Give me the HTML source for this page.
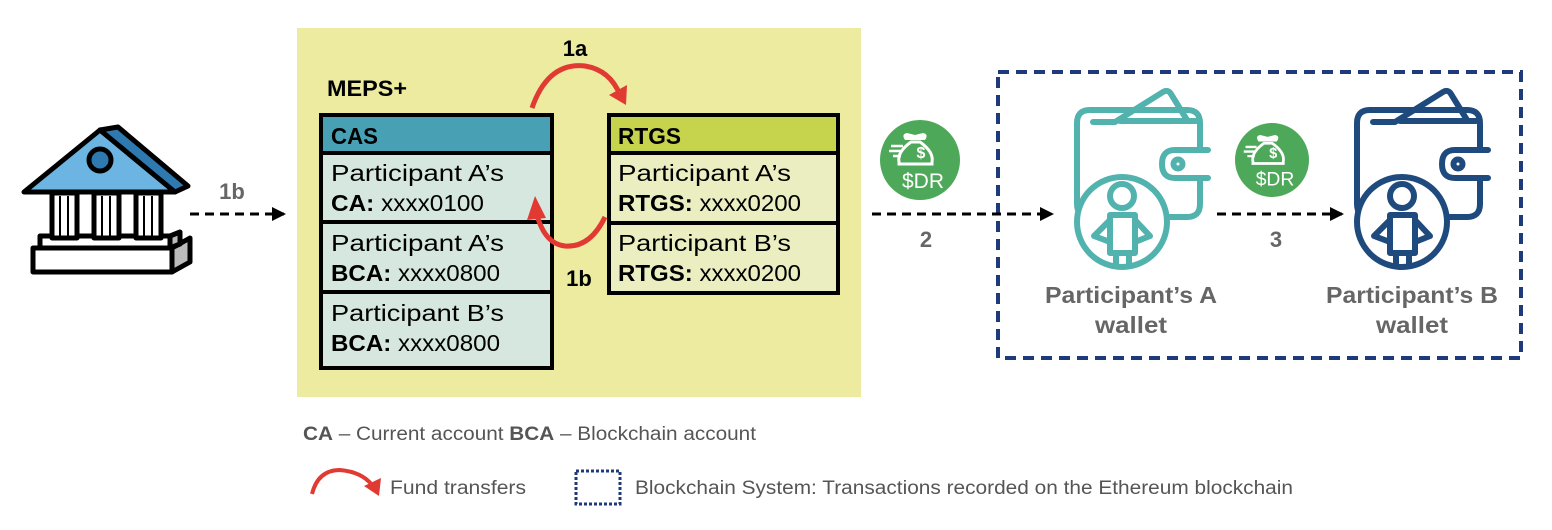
<!DOCTYPE html>
<html><head><meta charset="utf-8"><style>
html,body{margin:0;padding:0;background:#fff;}
svg{display:block;}
text{font-family:"Liberation Sans",sans-serif;}
</style></head><body>
<svg width="1552" height="530" viewBox="0 0 1552 530" xmlns="http://www.w3.org/2000/svg">
<defs>
<marker id="ah" markerWidth="14" markerHeight="14" refX="12" refY="7" orient="auto" markerUnits="userSpaceOnUse"><path d="M0,0 L14,7 L0,14 z" fill="#000"/></marker>
<g id="wallet" fill="none" stroke-width="6" stroke-linejoin="round" stroke-linecap="round">
<path d="M1090,217 Q1077,217 1077,204 L1077,123 Q1077,110 1090,110 L1187,110 Q1200,110 1200,123 L1200,204 Q1200,217 1187,217 Z" fill="#fff"/>
<path d="M1093,122 L1115,122 L1163,92 Q1168,89 1171,94 L1187,120"/>
<path d="M1120,121 L1196,121"/>
<path d="M1208,150 L1175,150 Q1162,150 1162,164 Q1162,178 1175,178 L1208,178" fill="#fff"/>
<circle cx="1178" cy="164" r="4.5"/>
<circle cx="1122" cy="222" r="45" fill="#fff"/>
<circle cx="1122" cy="196" r="12"/>
<rect x="1110" y="215" width="25" height="38"/>
<path d="M1110,220 L1094,236 L1110,242 M1135,220 L1150,236 L1135,242"/>
<path d="M1116,253 L1116,264 M1129,253 L1129,264"/>
</g>
<g id="money">
<path d="M-18,-18 q-4,-6 2,-7 l8,2 l8,-2 q6,1 2,7 z" fill="#fff"/>
<path d="M-12,-16 q-14,10 -12,20 l0,2 l33,0 l0,-2 q2,-10 -12,-20 z" fill="none" stroke="#fff" stroke-width="3"/>
<text x="-2" y="0" font-size="16" font-weight="bold" fill="#fff" text-anchor="middle">$</text>
<path d="M-32,-12 h12 M-34,-7 h12 M-30,-2 h8" stroke="#fff" stroke-width="2.5"/>
<text x="0" y="30" font-size="21" fill="#fff" text-anchor="middle">$DR</text>
</g>
</defs>

<rect x="297" y="28" width="564" height="369" fill="#eceba0"/>
<text x="327" y="96" font-size="22" font-weight="bold" fill="#000" textLength="80" lengthAdjust="spacingAndGlyphs">MEPS+</text>

<rect x="321" y="115" width="231" height="253" fill="#d6e7df" stroke="#000" stroke-width="4"/>
<rect x="323" y="117" width="227" height="35" fill="#48a0b4"/>
<line x1="321" y1="153" x2="552" y2="153" stroke="#000" stroke-width="4"/>
<line x1="321" y1="222" x2="552" y2="222" stroke="#000" stroke-width="4"/>
<line x1="321" y1="292" x2="552" y2="292" stroke="#000" stroke-width="4"/>
<text x="331" y="144" font-size="23" font-weight="bold" fill="#000" textLength="47" lengthAdjust="spacingAndGlyphs">CAS</text>
<g font-size="23" fill="#000">
<text x="331" y="181" textLength="173" lengthAdjust="spacingAndGlyphs">Participant A’s</text>
<text x="331" y="211" textLength="153" lengthAdjust="spacingAndGlyphs"><tspan font-weight="bold">CA:</tspan> xxxx0100</text>
<text x="331" y="251" textLength="173" lengthAdjust="spacingAndGlyphs">Participant A’s</text>
<text x="331" y="281" textLength="169" lengthAdjust="spacingAndGlyphs"><tspan font-weight="bold">BCA:</tspan> xxxx0800</text>
<text x="331" y="321" textLength="173" lengthAdjust="spacingAndGlyphs">Participant B’s</text>
<text x="331" y="351" textLength="169" lengthAdjust="spacingAndGlyphs"><tspan font-weight="bold">BCA:</tspan> xxxx0800</text>
</g>

<rect x="609" y="115" width="229" height="178" fill="#eaeec0" stroke="#000" stroke-width="4"/>
<rect x="611" y="117" width="225" height="35" fill="#c5d44c"/>
<line x1="609" y1="153" x2="838" y2="153" stroke="#000" stroke-width="4"/>
<line x1="609" y1="223" x2="838" y2="223" stroke="#000" stroke-width="4"/>
<text x="618" y="144" font-size="23" font-weight="bold" fill="#000" textLength="63" lengthAdjust="spacingAndGlyphs">RTGS</text>
<g font-size="23" fill="#000">
<text x="618" y="181" textLength="173" lengthAdjust="spacingAndGlyphs">Participant A’s</text>
<text x="618" y="211" textLength="183" lengthAdjust="spacingAndGlyphs"><tspan font-weight="bold">RTGS:</tspan> xxxx0200</text>
<text x="618" y="251" textLength="173" lengthAdjust="spacingAndGlyphs">Participant B’s</text>
<text x="618" y="281" textLength="183" lengthAdjust="spacingAndGlyphs"><tspan font-weight="bold">RTGS:</tspan> xxxx0200</text>
</g>

<path d="M532,108 Q548,62 585,66 Q610,70 620,95" fill="none" stroke="#e03a32" stroke-width="5"/>
<path d="M609,95 L626,105 L627,85 z" fill="#e03a32"/>
<path d="M605,217 Q590,248 565,246 Q545,244 537,215" fill="none" stroke="#e03a32" stroke-width="5"/>
<path d="M527,220 L535,196 L546,218 z" fill="#e03a32"/>
<text x="575" y="56" font-size="22" font-weight="bold" fill="#000" text-anchor="middle">1a</text>
<text x="579" y="286" font-size="22" font-weight="bold" fill="#000" text-anchor="middle">1b</text>

<g stroke="#000" stroke-width="5" stroke-linejoin="round">
<path d="M33,248 L172,248 L172,272 L33,272 z" fill="#fff"/>
<path d="M172,248 L190,238 L190,262 L172,272 z" fill="#bbb"/>
<path d="M40,236 L170,236 L170,248 L40,248 z" fill="#fff"/>
<path d="M170,236 L180,232 L180,244 L170,248 z" fill="#bbb"/>
<rect x="52" y="193" width="25" height="45" fill="#fff"/>
<rect x="94" y="193" width="25" height="45" fill="#fff"/>
<rect x="136" y="193" width="25" height="45" fill="#fff"/>
<path d="M24,192 L100,130 L175,192 z" fill="#6cb5e2"/>
<path d="M100,130 L118,127 L188,186 L175,192 z" fill="#2f79b1"/>
<circle cx="100" cy="160" r="11" fill="#2f79b1"/>
</g>
<g stroke="#000" stroke-width="2"><path d="M60,196 v40 M68,196 v40 M102,196 v40 M110,196 v40 M144,196 v40 M152,196 v40"/></g>
<text x="232" y="199" font-size="22" font-weight="bold" fill="#666" text-anchor="middle">1b</text>
<line x1="190" y1="214" x2="284" y2="214" stroke="#000" stroke-width="3" stroke-dasharray="9,6" marker-end="url(#ah)"/>

<rect x="998" y="72" width="523" height="286" fill="none" stroke="#1f3a7a" stroke-width="4" stroke-dasharray="11,7"/>

<line x1="872" y1="214" x2="1052" y2="214" stroke="#000" stroke-width="3" stroke-dasharray="9,6" marker-end="url(#ah)"/>
<line x1="1217" y1="214" x2="1342" y2="214" stroke="#000" stroke-width="3" stroke-dasharray="9,6" marker-end="url(#ah)"/>
<text x="926" y="247" font-size="22" font-weight="bold" fill="#666" text-anchor="middle">2</text>
<text x="1276" y="247" font-size="22" font-weight="bold" fill="#666" text-anchor="middle">3</text>

<circle cx="920" cy="160" r="40" fill="#4ea85a"/>
<g transform="translate(923,158)"><use href="#money"/></g>
<circle cx="1272" cy="160" r="37" fill="#4ea85a"/>
<g transform="translate(1275,158) scale(0.92)"><use href="#money"/></g>

<use href="#wallet" stroke="#52b3ae"/>
<g transform="translate(280,0)"><use href="#wallet" stroke="#1f4a7e"/></g>
<g font-size="23" font-weight="bold" fill="#666" text-anchor="middle">
<text x="1131" y="303" textLength="172" lengthAdjust="spacingAndGlyphs">Participant’s A</text>
<text x="1131" y="333" textLength="72" lengthAdjust="spacingAndGlyphs">wallet</text>
<text x="1412" y="303" textLength="172" lengthAdjust="spacingAndGlyphs">Participant’s B</text>
<text x="1412" y="333" textLength="72" lengthAdjust="spacingAndGlyphs">wallet</text>
</g>

<text x="303" y="440" font-size="19" fill="#555" textLength="453" lengthAdjust="spacingAndGlyphs"><tspan font-weight="bold">CA</tspan> – Current account  <tspan font-weight="bold">BCA</tspan> – Blockchain account</text>
<path d="M312,494 Q318,470 340,470 Q362,472 372,485" fill="none" stroke="#e03a32" stroke-width="4"/>
<path d="M364,486 L379,496 L381,478 z" fill="#e03a32"/>
<text x="390" y="494" font-size="19" fill="#555" textLength="136" lengthAdjust="spacingAndGlyphs">Fund transfers</text>
<rect x="576" y="471" width="44" height="33" fill="none" stroke="#1f3a7a" stroke-width="3" stroke-dasharray="3,2"/>
<text x="635" y="494" font-size="19" fill="#555" textLength="658" lengthAdjust="spacingAndGlyphs">Blockchain System: Transactions recorded on the Ethereum blockchain</text>
</svg>
</body></html>
